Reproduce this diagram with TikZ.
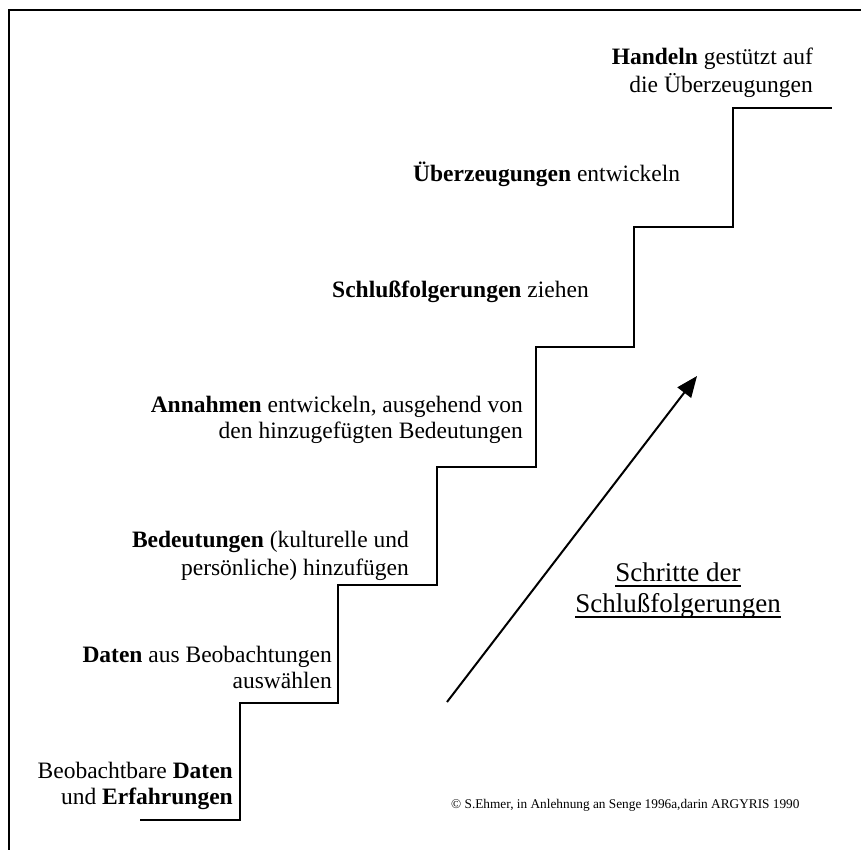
\documentclass[tikz,border=0pt]{standalone}
\usepackage{fontspec}
\setmainfont{Liberation Serif}
\usetikzlibrary{arrows.meta}
\tikzset{
  lbl/.style={inner sep=0pt, font=\fontsize{23.5}{27}\selectfont},
  big/.style={inner sep=0pt, font=\fontsize{27}{32}\selectfont},
  small/.style={inner sep=0pt, font=\fontsize{13.3}{16}\selectfont},
  stairline/.style={line width=2.4pt, line join=miter},
  frameline/.style={line width=2pt},
  arrowline/.style={line width=2pt, -{Triangle[length=21pt,width=17pt]}},
  uline/.style={line width=1.4pt}
}
\begin{document}
\begin{tikzpicture}[x=1pt,y=-1pt]
\useasboundingbox (0,0) rectangle (861,850);
% frame
\draw[frameline] (9,850) -- (9,10) -- (861,10);
% staircase
\draw[stairline] (140,820) -- (240,820) -- (240,703) -- (338,703) -- (338,585)
  -- (437,585) -- (437,467) -- (536,467) -- (536,347) -- (634,347) -- (634,227)
  -- (733,227) -- (733,108) -- (832,108);
% arrow
\coordinate (as) at (447,702);
\coordinate (ae) at (697,376);
\draw[arrowline] (as) -- (ae);
% step labels
\node[lbl, anchor=base east] (t1a) at (233,778) {Beobachtbare \textbf{Daten}};
\node[lbl, anchor=base east] (t1b) at (233,804) {und \textbf{Erfahrungen}};
\node[lbl, anchor=base east] (t2a) at (332,662) {\textbf{Daten} aus Beobachtungen};
\node[lbl, anchor=base east] (t2b) at (332,688) {auswählen};
\node[lbl, anchor=base east] (t3a) at (409,547) {\textbf{Bedeutungen} (kulturelle und};
\node[lbl, anchor=base east] (t3b) at (409,575) {persönliche) hinzufügen};
\node[lbl, anchor=base east] (t4a) at (523,412) {\textbf{Annahmen} entwickeln, ausgehend von};
\node[lbl, anchor=base east] (t4b) at (523,438) {den hinzugefügten Bedeutungen};
\node[lbl, anchor=base west] (t5) at (332,297) {\textbf{Schlußfolgerungen} ziehen};
\node[lbl, anchor=base west] (t6) at (413,182) {\textbf{Überzeugungen} entwickeln};
\node[lbl, anchor=base east] (t7a) at (813,65) {\textbf{Handeln} gestützt auf};
\node[lbl, anchor=base east] (t7b) at (813,93) {die Überzeugungen};
% title
\node[big, anchor=base] (s1) at (678,581) {Schritte der};
\node[big, anchor=base] (s2) at (678,612) {Schlußfolgerungen};
\draw[uline] ([yshift=-5pt]s1.base west) -- ([yshift=-5pt]s1.base east);
\draw[uline] ([yshift=-5pt]s2.base west) -- ([yshift=-5pt]s2.base east);
% copyright
\node[small, anchor=base west] (cr) at (451,808) {© S.Ehmer, in Anlehnung an Senge 1996a,darin ARGYRIS 1990};
\end{tikzpicture}
\end{document}
